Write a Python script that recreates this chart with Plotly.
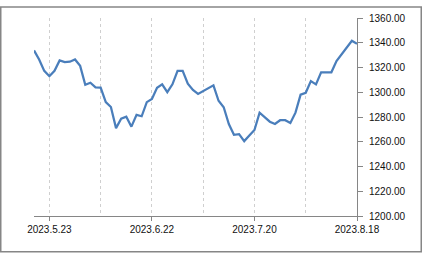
import plotly.graph_objects as go

dates = [
    "2023.5.18", "2023.5.19", "2023.5.22", "2023.5.23", "2023.5.24", "2023.5.25", "2023.5.26",
    "2023.5.30", "2023.5.31", "2023.6.1", "2023.6.2", "2023.6.5", "2023.6.7", "2023.6.8",
    "2023.6.9", "2023.6.12", "2023.6.13", "2023.6.14", "2023.6.15", "2023.6.16", "2023.6.19",
    "2023.6.20", "2023.6.21", "2023.6.22", "2023.6.23", "2023.6.26", "2023.6.27", "2023.6.28",
    "2023.6.29", "2023.6.30", "2023.7.3", "2023.7.4", "2023.7.5", "2023.7.6", "2023.7.7",
    "2023.7.10", "2023.7.11", "2023.7.12", "2023.7.13", "2023.7.14", "2023.7.17", "2023.7.18",
    "2023.7.19", "2023.7.20", "2023.7.21", "2023.7.24", "2023.7.25", "2023.7.26", "2023.7.27",
    "2023.7.28", "2023.7.31", "2023.8.1", "2023.8.2", "2023.8.3", "2023.8.4", "2023.8.7",
    "2023.8.8", "2023.8.9", "2023.8.10", "2023.8.11", "2023.8.14", "2023.8.16", "2023.8.17",
    "2023.8.18",
]

values = [
    1333.8, 1326.5, 1317.3, 1313.0, 1317.3, 1325.7, 1324.4, 1324.7, 1326.5, 1321.3,
    1306.1, 1307.7, 1304.0, 1303.8, 1292.0, 1288.1, 1271.0, 1278.6, 1280.2, 1272.2,
    1281.7, 1280.6, 1292.0, 1294.6, 1303.6, 1306.4, 1300.1, 1306.4, 1317.3, 1317.3,
    1306.9, 1301.8, 1298.7, 1301.1, 1303.8, 1305.6, 1293.1, 1287.9, 1274.3, 1265.6,
    1266.1, 1260.5, 1265.0, 1269.5, 1283.5, 1279.5, 1276.2, 1274.4, 1277.4, 1277.4,
    1275.1, 1283.5, 1298.0, 1299.6, 1309.0, 1306.4, 1316.1, 1316.1, 1316.1, 1325.2,
    1330.4, 1336.5, 1341.6, 1339.1,
]

label_dates = ["2023.5.23", "2023.6.22", "2023.7.20", "2023.8.18"]
mid_grid_dates = ["2023.6.8", "2023.7.6", "2023.8.3"]
y_ticks = [1200, 1220, 1240, 1260, 1280, 1300, 1320, 1340, 1360]

W, H = 422, 254
ML, MR, MT, MB = 34, 65, 12, 38
PW, PH = W - ML - MR, H - MT - MB

fig = go.Figure()
fig.add_trace(go.Scatter(
    x=dates, y=values, mode="lines",
    line=dict(color="#4a7ebb", width=2.25),
    hoverinfo="x+y",
))

fig.update_layout(
    width=W, height=H,
    margin=dict(l=ML, r=MR, t=MT, b=MB),
    paper_bgcolor="white", plot_bgcolor="white",
    showlegend=False,
    font=dict(family="Liberation Sans, Arial, sans-serif", size=10, color="#111"),
    xaxis=dict(
        type="category",
        categoryorder="array", categoryarray=dates,
        range=[0, len(dates) - 1],
        tickmode="array", tickvals=label_dates, ticktext=label_dates,
        showgrid=True, gridcolor="#cfcfcf", griddash="dot", gridwidth=1,
        minor=dict(tickmode="array", tickvals=mid_grid_dates, showgrid=True,
                   gridcolor="#cfcfcf", griddash="dot", gridwidth=1, ticks=""),
        showline=True, linecolor="#868686", linewidth=1,
        ticks="outside", ticklen=4, tickcolor="#868686",
        zeroline=False, tickangle=0,
        tickfont=dict(size=10),
    ),
    yaxis=dict(
        side="right",
        range=[1200, 1360],
        tickmode="array", tickvals=y_ticks,
        ticktext=[f"{v:.2f}" for v in y_ticks],
        showgrid=False,
        showline=True, linecolor="#868686", linewidth=1,
        ticks="outside", ticklen=5, tickcolor="#868686",
        ticklabelstandoff=4,
        zeroline=False,
        tickfont=dict(size=10),
    ),
    shapes=[dict(
        type="rect", xref="paper", yref="paper",
        x0=(-ML + 0.75) / PW, x1=1 + (MR - 0.75) / PW,
        y0=(-MB + 1.25) / PH, y1=1 + (MT - 0.75) / PH,
        line=dict(color="#868686", width=1.5),
        fillcolor="rgba(0,0,0,0)",
    )],
)

fig.write_html("out.html")
